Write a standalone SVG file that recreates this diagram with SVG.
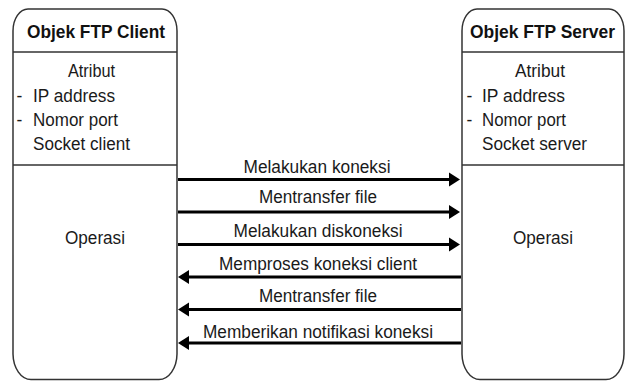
<svg xmlns="http://www.w3.org/2000/svg" width="629" height="381" viewBox="0 0 629 381">
  <defs>
    <style>
      .box { fill: #ffffff; stroke: #333333; stroke-width: 1.5; }
      .div { stroke: #333333; stroke-width: 1.5; }
      .title { font-family: "Liberation Sans", Arial, sans-serif; font-weight: bold; font-size: 18.5px; fill: #111111; }
      .txt { font-family: "Liberation Sans", Arial, sans-serif; font-size: 17.5px; fill: #1a1a1a; }
      .mid { text-anchor: middle; }
      .msg { stroke: #000000; stroke-width: 3; fill: none; }
    </style>
    <marker id="head" markerUnits="userSpaceOnUse" markerWidth="12" markerHeight="16" refX="1" refY="7" orient="auto" viewBox="0 0 12 14">
      <path d="M0,0 L11,7 L0,14 Z" fill="#000000"/>
    </marker>
  </defs>

  <rect width="629" height="381" fill="#ffffff"/>

  <!-- FTP client object -->
  <g id="ftp-client">
    <path class="box" d="M13,31 A15,22 0 0 1 28,9 H162 A15,22 0 0 1 177,31 V354 A18,26 0 0 1 159,379.5 H31 A18,26 0 0 1 13,354 Z"/>
    <line class="div" x1="13" y1="52" x2="177" y2="52"/>
    <line class="div" x1="13" y1="165" x2="177" y2="165"/>
    <text class="title mid" x="96" y="38" textLength="138" lengthAdjust="spacingAndGlyphs">Objek FTP Client</text>
    <text class="txt mid" x="91.5" y="77" textLength="47" lengthAdjust="spacingAndGlyphs">Atribut</text>
    <text class="txt" x="16.5" y="102">-</text>
    <text class="txt" x="33" y="102" textLength="82" lengthAdjust="spacingAndGlyphs">IP address</text>
    <text class="txt" x="16.5" y="126">-</text>
    <text class="txt" x="33" y="126" textLength="85" lengthAdjust="spacingAndGlyphs">Nomor port</text>
    <text class="txt" x="33" y="150" textLength="97" lengthAdjust="spacingAndGlyphs">Socket client</text>
    <text class="txt mid" x="95" y="243.5" textLength="60" lengthAdjust="spacingAndGlyphs">Operasi</text>
  </g>

  <!-- FTP server object -->
  <g id="ftp-server">
    <path class="box" d="M462,31 A15,22 0 0 1 477,9 H609 A15,22 0 0 1 624,31 V354 A18,26 0 0 1 606,379.5 H480 A18,26 0 0 1 462,354 Z"/>
    <line class="div" x1="462" y1="52" x2="624" y2="52"/>
    <line class="div" x1="462" y1="165" x2="624" y2="165"/>
    <text class="title mid" x="542.5" y="38" textLength="145" lengthAdjust="spacingAndGlyphs">Objek FTP Server</text>
    <text class="txt mid" x="540" y="77" textLength="50" lengthAdjust="spacingAndGlyphs">Atribut</text>
    <text class="txt" x="466.5" y="102">-</text>
    <text class="txt" x="482" y="102" textLength="83" lengthAdjust="spacingAndGlyphs">IP address</text>
    <text class="txt" x="466.5" y="126">-</text>
    <text class="txt" x="482" y="126" textLength="84" lengthAdjust="spacingAndGlyphs">Nomor port</text>
    <text class="txt" x="482" y="150" textLength="105" lengthAdjust="spacingAndGlyphs">Socket server</text>
    <text class="txt mid" x="543" y="243.5" textLength="60" lengthAdjust="spacingAndGlyphs">Operasi</text>
  </g>

  <!-- messages between client and server -->
  <g id="connectors">
    <line class="msg" x1="178" y1="179.5" x2="450" y2="179.5" marker-end="url(#head)"/>
    <line class="msg" x1="178" y1="212" x2="450" y2="212" marker-end="url(#head)"/>
    <line class="msg" x1="178" y1="244.5" x2="450" y2="244.5" marker-end="url(#head)"/>
    <line class="msg" x1="461" y1="277" x2="188" y2="277" marker-end="url(#head)"/>
    <line class="msg" x1="461" y1="309.5" x2="188" y2="309.5" marker-end="url(#head)"/>
    <line class="msg" x1="461" y1="343" x2="188" y2="343" marker-end="url(#head)"/>

    <text class="txt mid" x="317" y="173" textLength="147" lengthAdjust="spacingAndGlyphs">Melakukan koneksi</text>
    <text class="txt mid" x="318" y="203.3" textLength="118" lengthAdjust="spacingAndGlyphs">Mentransfer file</text>
    <text class="txt mid" x="318" y="237.3" textLength="169" lengthAdjust="spacingAndGlyphs">Melakukan diskoneksi</text>
    <text class="txt mid" x="318" y="270" textLength="198" lengthAdjust="spacingAndGlyphs">Memproses koneksi client</text>
    <text class="txt mid" x="318" y="301.7" textLength="118" lengthAdjust="spacingAndGlyphs">Mentransfer file</text>
    <text class="txt mid" x="318" y="337.7" textLength="230" lengthAdjust="spacingAndGlyphs">Memberikan notifikasi koneksi</text>
  </g>
</svg>
